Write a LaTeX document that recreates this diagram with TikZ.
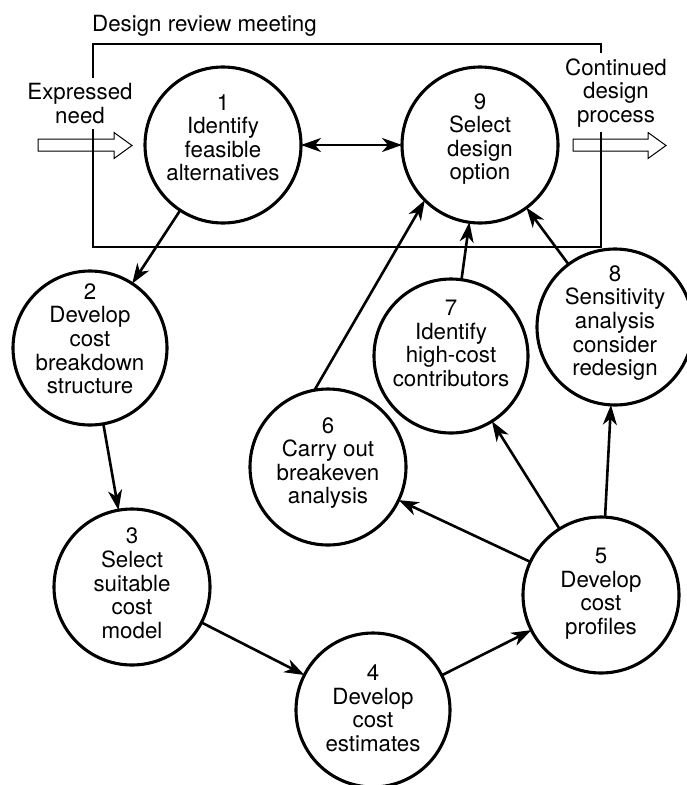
\documentclass[tikz,border=0pt]{standalone}
\usepackage{fontspec}
\setmainfont{TeX Gyre Heros}
\usetikzlibrary{arrows.meta}
\newcommand\Htop{\rule{0pt}{17pt}}
\newcommand\Dbot{\rule[-17pt]{0pt}{17pt}}
\begin{document}
\begin{tikzpicture}[x=1pt,y=-1pt,
  every node/.style={font=\fontsize{22.3pt}{23.6pt}\selectfont},
  circ/.style={draw,circle,line width=3.1pt,minimum size=156pt,inner sep=0pt,outer sep=0pt},
  ctext/.style={align=center,inner sep=0pt},
  otext/.style={align=center,fill=white,inner xsep=2pt,inner ysep=5pt},
  tip/.style={},
  arr/.style={line width=2.6pt,-{Stealth[length=20pt,width=14pt,inset=6pt]}},
  dblarr/.style={line width=2.6pt,{Stealth[length=20pt,width=14pt,inset=6pt]}-{Stealth[length=20pt,width=14pt,inset=6pt]}},
  blockarr/.style={draw,fill=white,line width=1pt,line join=miter},
  frame/.style={draw,line width=2.9pt}]
\useasboundingbox (0,0) rectangle (686,785);

% block arrows
\draw[blockarr] (38,139) -- (114,139) -- (114,132.5) -- (132,145.5) -- (114,158.5) -- (114,151) -- (38,151) -- cycle;
\draw[blockarr] (573,139) -- (648,139) -- (648,132.5) -- (666,145.5) -- (648,158.5) -- (648,151) -- (573,151) -- cycle;

% design review frame
\draw[frame] (93,44) rectangle (601,247);

% outer labels
\node[anchor=base west,inner sep=0pt] (title) at (92,31.7) {Design review meeting};
\node[otext] (need) at (80,103.5) {Expressed\\need};
\node[otext] (cont) at (616,92.7) {Continued\\design\\process};

% circles
\node[circ] (c1) at (223,145) {};
\node[circ] (c9) at (480,145) {};
\node[circ,minimum size=154pt] (c2) at (90,348) {};
\node[circ] (c3) at (132,587) {};
\node[circ,minimum size=154pt] (c4) at (373,710) {};
\node[circ] (c5) at (601,595) {};
\node[circ] (c6) at (328,467) {};
\node[circ,minimum size=154pt] (c7) at (451,356) {};
\node[circ] (c8) at (615,327) {};

% circle texts
\node[ctext] (t1) at (223,145.5) {\Htop 1\\Identify\\feasible\\alternatives\Dbot};
\node[ctext] (t9) at (480,144.5) {\Htop 9\\Select\\design\\option\Dbot};
\node[ctext] (t2) at (90,346.5) {\Htop 2\\Develop\\cost\\breakdown\\structure\Dbot};
\node[ctext] (t3) at (132,591) {\Htop 3\\Select\\suitable\\cost\\model\Dbot};
\node[ctext] (t4) at (373,716) {\Htop 4\\Develop\\cost\\estimates\Dbot};
\node[ctext] (t5) at (601,599) {\Htop 5\\Develop\\cost\\profiles\Dbot};
\node[ctext] (t6) at (328,468.5) {\Htop 6\\Carry out\\breakeven\\analysis\Dbot};
\node[ctext] (t7) at (451,351) {\Htop 7\\Identify\\high-cost\\contributors\Dbot};
\node[ctext] (t8) at (615,328.5) {\Htop 8\\Sensitivity\\analysis\\consider\\redesign\Dbot};

% connectors
\draw[dblarr] (c1) -- (c9);
\draw[arr] (c1) -- (c2);
\draw[arr] (c2) -- (c3);
\draw[arr] (c3) -- (c4);
\draw[arr] (c4) -- (c5);
\draw[arr] (c5) -- (c6);
\draw[arr] (c5) -- (c7);
\draw[arr] (c5) -- (c8);
\draw[arr] (c6.100) -- (c9.225);
\draw[arr] (c7) -- (c9);
\draw[arr] (c8) -- (c9);
\end{tikzpicture}
\end{document}
